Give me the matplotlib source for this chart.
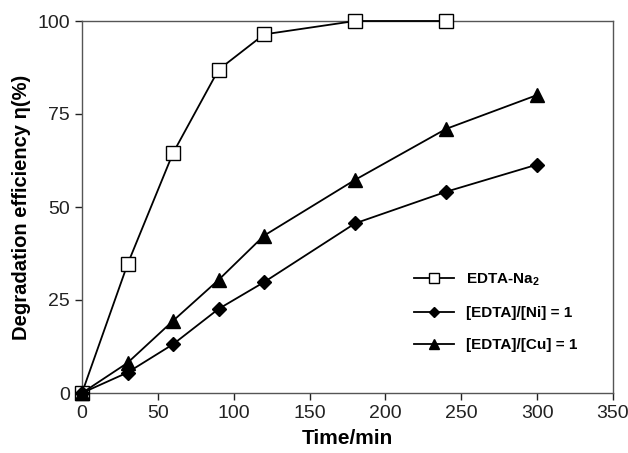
import matplotlib
matplotlib.use("Agg")
import matplotlib.pyplot as plt

# 시간 (min)
time_na = [0, 30, 60, 90, 120, 180, 240]
time_metal = [0, 30, 60, 90, 120, 180, 240, 300]

# 분해 효율 (%)
eff_na = [0, 34.6, 64.5, 86.9, 96.4, 100, 100]
eff_ni = [0, 5.5, 13.1, 22.6, 29.8, 45.6, 54.1, 61.4]
eff_cu = [0, 8.1, 19.4, 30.4, 42.3, 57.3, 71.0, 80.1]

labels = ["EDTA-Na$_2$", "[EDTA]/[Ni] = 1", "[EDTA]/[Cu] = 1"]
x_ticks = [0, 50, 100, 150, 200, 250, 300, 350]
y_ticks = [0, 25, 50, 75, 100]

plt.rcParams['font.family'] = ['Liberation Sans', 'DejaVu Sans']
plt.rcParams['mathtext.fontset'] = 'custom'
plt.rcParams['mathtext.rm'] = 'Liberation Sans:bold'
plt.rcParams['mathtext.bf'] = 'Liberation Sans:bold'

fig = plt.figure(figsize=(6.28, 4.53), dpi=100)
ax = fig.add_axes([82 / 628, 1 - 393 / 453, (613 - 82) / 628, (393 - 21) / 453])

ax.plot(time_na, eff_na, color='black', lw=1.3, marker='s', ms=9.5,
        mfc='white', mec='black', mew=1.0, label=labels[0], clip_on=False, zorder=3)
ax.plot(time_metal, eff_ni, color='black', lw=1.3, marker='D', ms=7.5,
        mfc='black', mec='black', label=labels[1], clip_on=False, zorder=3)
ax.plot(time_metal, eff_cu, color='black', lw=1.3, marker='^', ms=10,
        mfc='black', mec='black', label=labels[2], clip_on=False, zorder=3)

ax.set_xlim(0, 350)
ax.set_ylim(0, 100)
ax.set_xticks(x_ticks)
ax.set_yticks(y_ticks)
ax.tick_params(direction='out', length=5, width=1, labelsize=14, colors='#222222')
for sp in ax.spines.values():
    sp.set_color('#555555')
    sp.set_linewidth(1.0)

ax.set_xlabel("Time/min", fontsize=15, fontweight='bold', labelpad=5)
ax.set_ylabel("Degradation efficiency η(%)", fontsize=14.5, fontweight='bold', labelpad=5)

leg = ax.legend(loc='upper left', bbox_to_anchor=(0.6, 0.365), frameon=False,
                prop={'size': 11, 'weight': 'bold'}, handlelength=2.6,
                labelspacing=1.2, markerscale=0.7)

fig.savefig("out.png", dpi=100)
